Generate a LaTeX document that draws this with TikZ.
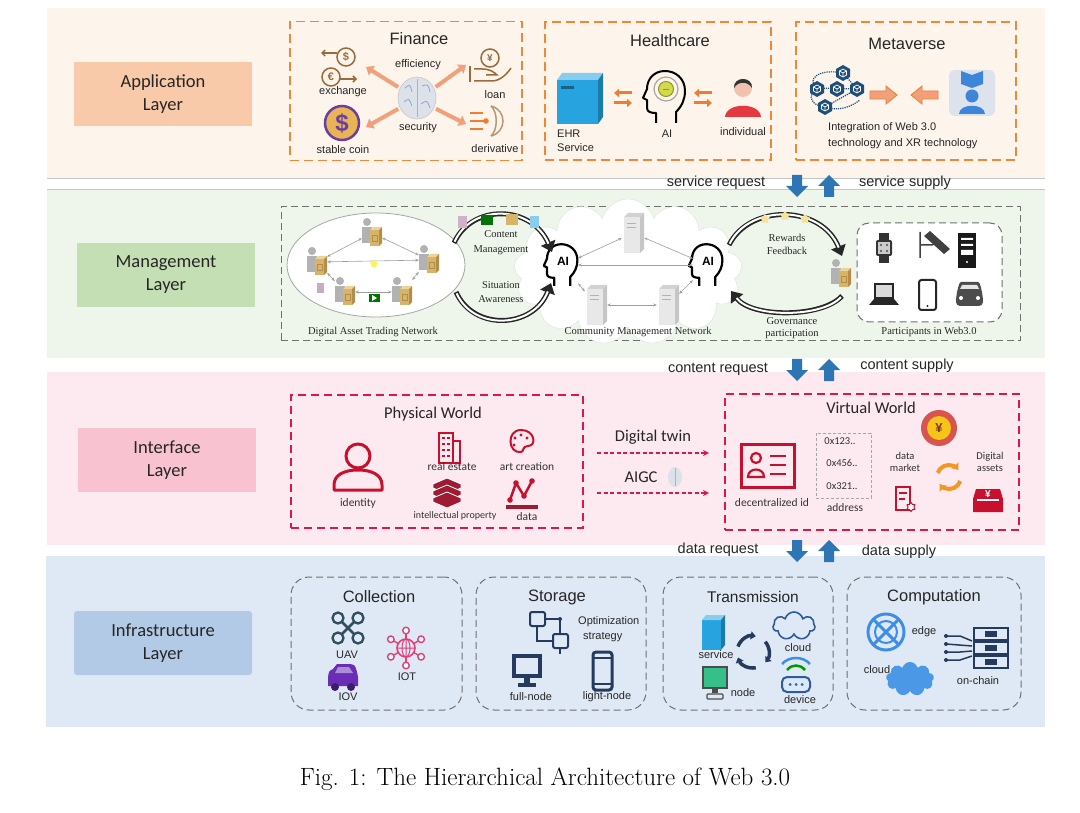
\documentclass[tikz,border=0pt]{standalone}
\usepackage{fontspec}
\newfontfamily\fA{Liberation Sans}
\newfontfamily\fC{Carlito}
\newfontfamily\fT{Liberation Serif}
\usetikzlibrary{arrows.meta,shapes.symbols,shapes.geometric,calc}
\definecolor{cAppBand}{HTML}{FDF4EC}
\definecolor{cAppLab}{HTML}{F8CAAA}
\definecolor{cOrgDash}{HTML}{EE8738}
\definecolor{cMgBand}{HTML}{EEF6EB}
\definecolor{cMgLab}{HTML}{C5DFB4}
\definecolor{cInBand}{HTML}{FDEAF0}
\definecolor{cInLab}{HTML}{F8C2D1}
\definecolor{cRedDash}{HTML}{D8194B}
\definecolor{cIfBand}{HTML}{DFE9F5}
\definecolor{cIfLab}{HTML}{B2CAE5}
\definecolor{cGrDash}{HTML}{707070}
\definecolor{cArrBlue}{HTML}{2E75B6}
\definecolor{cRed}{HTML}{C8102E}
\definecolor{cDRed}{HTML}{9E1B32}
\definecolor{cBrown}{HTML}{9A6B3A}
\definecolor{cOArr}{HTML}{F2A07A}
\definecolor{cOrange}{HTML}{EE7D31}
\definecolor{cSky}{HTML}{27A4E0}
\definecolor{cNavy}{HTML}{1F4E79}
\definecolor{cNavyS}{HTML}{243A5E}
\definecolor{cTanA}{HTML}{D8B46A}
\definecolor{cTanB}{HTML}{EBD39B}
\definecolor{cTanC}{HTML}{B38E4A}
\definecolor{cBrain}{HTML}{DDE2EA}
\definecolor{cBrainB}{HTML}{8EA6C8}
\definecolor{cGold}{HTML}{E8B455}
\definecolor{cPurple}{HTML}{6B3FA0}
\definecolor{cSkin}{HTML}{F1C2B0}
\definecolor{cBodyRed}{HTML}{E53940}
\definecolor{cAiYel}{HTML}{D3DA4A}
\definecolor{cAiYelD}{HTML}{8C9A2A}
\definecolor{cXR}{HTML}{DDE3EC}
\definecolor{cXRBlue}{HTML}{3D85D8}
\definecolor{cStar}{HTML}{F4E3A0}
\definecolor{cCoinRed}{HTML}{D9534F}
\definecolor{cCoinYel}{HTML}{F5C518}
\definecolor{cUav}{HTML}{2F4F5F}
\definecolor{cIot}{HTML}{E0407A}
\definecolor{cIov}{HTML}{6A2DB5}
\definecolor{cGreenMon}{HTML}{35C08A}
\definecolor{cXBlue}{HTML}{3F8EE6}
\definecolor{cCloudB}{HTML}{4A98E6}
\definecolor{cTCloud}{HTML}{2E5B9A}
\tikzset{
  lab/.style={minimum width=178pt, minimum height=64pt, font=\fC\fontsize{18.5}{23}\selectfont, align=center, text=black!85, inner sep=0pt},
  ttl/.style={font=\fA\fontsize{16.5}{19}\selectfont, text=black!85, inner sep=0pt},
  ttlc/.style={font=\fC\fontsize{16.5}{19}\selectfont, text=black!85, inner sep=0pt},
  sm/.style={font=\fA\fontsize{11}{13}\selectfont, text=black!85, inner sep=0pt, align=center},
  smc/.style={font=\fC\fontsize{11.5}{13}\selectfont, text=black!80, inner sep=0pt, align=center},
  tms/.style={font=\fT\fontsize{10.5}{12}\selectfont, text=black!85, inner sep=0pt, align=center},
  flowtxt/.style={font=\fA\fontsize{14.5}{17}\selectfont, text=black!85, inner sep=0pt},
  odash/.style={draw=cOrgDash, line width=1.6pt, dash pattern=on 9pt off 5pt},
  rdash/.style={draw=cRedDash, line width=1.4pt, dash pattern=on 8pt off 5pt},
  gdash/.style={draw=cGrDash, line width=1pt, dash pattern=on 7pt off 4pt},
  gbox/.style={draw=cGrDash, line width=1pt, dash pattern=on 7pt off 4pt, rounded corners=18pt},
  oarr/.style={draw=cOArr, line width=4pt, -{Triangle[length=7pt,width=11pt]}},
  tarr/.style={draw=gray!75, line width=0.6pt, {Stealth[length=3.5pt,width=3pt]}-{Stealth[length=3.5pt,width=3pt]}},
  barcO/.style={draw=black!85, line width=5pt, -{Triangle[length=10pt,width=15pt]}},
  barcI/.style={draw=white, line width=2pt, shorten >=9pt, shorten <=1.5pt},
  rdarr/.style={draw=cRedDash, line width=1.3pt, dash pattern=on 4pt off 2.5pt, -{Stealth[length=6pt,width=6pt]}},
  downarr/.pic={\fill[cArrBlue] (-5,-11) -- (5,-11) -- (5,0) -- (11,0) -- (0,11) -- (-11,0) -- (-5,0) -- cycle;},
  uparr/.pic={\fill[cArrBlue] (-5,11) -- (5,11) -- (5,0) -- (11,0) -- (0,-11) -- (-11,0) -- (-5,0) -- cycle;},
  swapo/.pic={
    \draw[cOrange, line width=3pt, -{Triangle[length=5pt,width=8pt]}] (9,-5) -- (-9,-5);
    \draw[cOrange, line width=3pt, -{Triangle[length=5pt,width=8pt]}] (-9,5) -- (9,5);
  },
  servp/.pic={
    \fill[gray!60] (-5,-11) circle (4);
    \fill[gray!60] (-10,-6) rectangle (0,10);
    \fill[cTanB] (-2,-3) -- (1,-6) -- (10,-6) -- (7,-3) -- cycle;
    \fill[cTanA] (-2,-3) rectangle (7,13);
    \fill[cTanC] (7,-3) -- (10,-6) -- (10,10) -- (7,13) -- cycle;
    \draw[cTanC, line width=0.5pt] (0,2) rectangle (5,8);
  },
  cserv/.pic={
    \fill[gray!35] (-9,-16) -- (-5,-20) -- (11,-20) -- (7,-16) -- cycle;
    \fill[gray!18] (-9,-16) rectangle (7,20);
    \fill[gray!45] (7,-16) -- (11,-20) -- (11,16) -- (7,20) -- cycle;
    \draw[gray!60, line width=0.5pt] (-6,-10) -- (3,-10) (-6,-6) -- (3,-6);
  },
  aihd/.pic={
    \draw[line width=2.2pt, line join=round, scale=0.8] (9,26) -- (9,15) .. controls (15,9) and (18,2) .. (18,-6) .. controls (18,-19) and (8,-26) .. (-2,-26) .. controls (-13,-26) and (-20,-18) .. (-20,-8) -- (-24,1) -- (-20,3) -- (-20,11) .. controls (-20,15) and (-16,16) .. (-11,16) -- (-11,26);
    \node[font=\fA\bfseries\fontsize{12}{12}\selectfont, inner sep=0pt] (-t) at (0,-4) {AI};
  },
  aihl/.pic={
    \draw[line width=2pt, line join=round] (9,26) -- (9,15) .. controls (15,9) and (18,2) .. (18,-6) .. controls (18,-19) and (8,-26) .. (-2,-26) .. controls (-13,-26) and (-20,-18) .. (-20,-8) -- (-24,1) -- (-20,3) -- (-20,11) .. controls (-20,15) and (-16,16) .. (-11,16) -- (-11,26);
    \draw[gray!70, line width=1.2pt] (-1,-8) circle (12);
    \fill[cAiYel, draw=cAiYelD, line width=1pt] (-1,-8) circle (7.5);
    \draw[cAiYelD, line width=0.8pt] (-4,-8) -- (2,-8);
  },
  cube/.pic={
    \fill[cNavy] (0,-8) -- (7,-4) -- (7,4) -- (0,8) -- (-7,4) -- (-7,-4) -- cycle;
    \draw[white, line width=0.7pt] (0,-4) -- (3.5,-2) -- (3.5,2) -- (0,4) -- (-3.5,2) -- (-3.5,-2) -- cycle;
    \draw[white, line width=0.7pt] (-3.5,-2) -- (0,0) -- (3.5,-2) (0,0) -- (0,4);
  },
}
\begin{document}
\begin{tikzpicture}[x=1pt,y=-1pt]
\fill[white] (0,0) rectangle (1080,813);
\useasboundingbox (0,0) rectangle (1080,813);
% ---------- bands
\fill[cAppBand] (47,8) rectangle (1045,178);
\fill[cMgBand] (47,189) rectangle (1045,358);
\draw[gray!45, line width=0.8pt] (47,178) -- (1045,178);
\draw[gray!45, line width=0.8pt] (47,189) -- (1045,189);
\fill[cInBand] (47,372) rectangle (1045,545);
\fill[cIfBand] (46,556) rectangle (1045,727);
% ---------- layer labels
\node[lab, fill=cAppLab] (lapp) at (163,94) {Application\\Layer};
\node[lab, fill=cMgLab] (lmg) at (166,275) {Management\\Layer};
\node[lab, fill=cInLab] (lin) at (167,460) {Interface\\Layer};
\node[lab, fill=cIfLab, rounded corners=3pt] (lif) at (163,643) {Infrastructure\\Layer};
% ---------- between layers
\node[flowtxt] (sreq) at (716,183) {service request};
\pic at (797,186) {downarr};
\pic at (829,186) {uparr};
\node[flowtxt] (ssup) at (905,183) {service supply};
\node[flowtxt] (creq) at (718,369) {content request};
\pic at (797,370) {downarr};
\pic at (829,370) {uparr};
\node[flowtxt] (csup) at (907,366) {content supply};
\node[flowtxt] (dreq) at (718,550) {data request};
\pic at (797,551) {downarr};
\pic at (829,551) {uparr};
\node[flowtxt] (dsup) at (899,552) {data supply};
% ========== APPLICATION
\node[odash, minimum width=232pt, minimum height=139pt] (fin) at (406,91) {};
\node[odash, minimum width=226pt, minimum height=138pt] (hc) at (658,91) {};
\node[odash, minimum width=220pt, minimum height=138pt] (mv) at (906,91) {};
\node[ttl] (tfin) at (419,39) {Finance};
\node[ttl] (thc) at (670,41) {Healthcare};
\node[ttl] (tmv) at (907,44) {Metaverse};
% finance
\node[ellipse, fill=cBrain, draw=gray!45, line width=0.6pt, minimum width=38pt, minimum height=42pt] (brain) at (417,98) {};
\draw[gray!60, line width=0.7pt] (417,79) -- (417,117);
\draw[cBrainB, line width=0.8pt] (405,88) .. controls (410,84) .. (412,92) (404,102) .. controls (409,98) .. (412,106) (422,86) .. controls (428,84) .. (430,92) (421,104) .. controls (427,100) .. (430,108);
\draw[cBrown, line width=1.5pt] (346,57) circle (9);
\node[font=\fA\bfseries\fontsize{11}{11}\selectfont, text=cBrown, inner sep=0pt] (usd) at (346,57) {\$};
\draw[cBrown, line width=1.5pt] (331,77) circle (9);
\node[font=\fA\bfseries\fontsize{11}{11}\selectfont, text=cBrown, inner sep=0pt] (eur) at (331,77) {€};
\draw[cBrown, line width=1.5pt, -{Straight Barb[length=3pt]}] (337,53) -- (321,53);
\draw[cBrown, line width=1.5pt, -{Straight Barb[length=3pt]}] (340,79) -- (357,79);
\node[sm] (texch) at (343,92) {exchange};
\node[circle, minimum size=34pt, fill=cGold, draw=cPurple, line width=2.5pt, font=\fA\bfseries\fontsize{24}{24}\selectfont, text=cPurple, inner sep=0pt] (stab) at (342,123) {\$};
\node[sm] (tstab) at (343,150) {stable coin};
\draw[cBrown, line width=1.5pt] (490,58) circle (9);
\node[font=\fA\bfseries\fontsize{10}{10}\selectfont, text=cBrown, inner sep=0pt] (yen1) at (490,58) {¥};
\draw[cBrown, line width=1.5pt] (470,66) -- (470,82);
\draw[cBrown, line width=1.5pt] (474,69) -- (482,69) .. controls (490,69) and (494,72) .. (497,75) -- (486,75);
\draw[cBrown, line width=1.5pt] (474,81) -- (492,81) .. controls (500,81) and (507,74) .. (511,68);
\node[sm] (tloan) at (495,95) {loan};
\draw[cOrange, line width=2pt] (470,113) -- (483,113) (470,121) -- (486,121) (470,129) -- (483,129);
\fill[cOrange] (486,121) circle (2.8);
\draw[cBrown!70, line width=1.5pt] (491,106) .. controls (507,110) and (507,132) .. (491,136);
\draw[cBrown!70, line width=1.5pt] (491,106) .. controls (498,112) and (498,130) .. (491,136);
\node[sm] (tderi) at (495,149) {derivative};
\node[sm] (teff) at (418,65) {efficiency};
\node[sm] (tsec) at (418,128) {security};
\coordinate (exT) at (366,67);
\coordinate (loT) at (466,65);
\coordinate (stT) at (366,127);
\coordinate (deT) at (466,124);
\draw[oarr, shorten <=2pt] (brain.150) -- (exT);
\draw[oarr, shorten <=2pt] (brain.30) -- (loT);
\draw[oarr, shorten <=2pt] (brain.210) -- (stT);
\draw[oarr, shorten <=2pt] (brain.330) -- (deT);
% healthcare
\node[minimum width=46pt, minimum height=51pt, inner sep=0pt] (ehr) at (580,98) {};
\fill[cSky] (557,80) rectangle (598,124);
\fill[cSky!55] (557,80) -- (562,73) -- (603,73) -- (598,80) -- cycle;
\fill[cSky!75!black] (598,80) -- (603,73) -- (603,117) -- (598,124) -- cycle;
\fill[cSky!60!black] (561,86) rectangle (574,89);
\node[sm, anchor=west] (tehr) at (557,134) {EHR};
\node[sm, anchor=west] (tehs) at (557,148) {Service};
\pic at (623,98) {swapo};
\node[minimum width=44pt, minimum height=52pt, inner sep=0pt] (hai) at (667,97) {};
\pic at (hai) {aihl};
\node[sm] (thai) at (667,134) {AI};
\pic at (703,98) {swapo};
\fill[cSkin] (743,88) circle (9);
\fill[black!80] (734,88) .. controls (733,76) and (753,76) .. (752,88) .. controls (748,81) and (738,81) .. (734,88) -- cycle;
\fill[cBodyRed] (725,117) .. controls (726,102) and (760,102) .. (761,117) -- cycle;
\node[sm] (tind) at (743,132) {individual};
% metaverse
\draw[cNavy, line width=1.2pt, densely dotted] (843,73) .. controls (818,68) and (806,80) .. (817,88) .. controls (806,96) and (812,106) .. (825,107) -- (857,89);
\draw[cNavy, line width=1.2pt, densely dotted] (817,88) -- (857,89) (843,73) -- (857,89) (825,107) .. controls (840,112) and (852,106) .. (860,100);
\pic at (843,73) {cube};
\pic at (817,89) {cube};
\pic at (837,89) {cube};
\pic at (857,89) {cube};
\pic at (825,107) {cube};
\fill[cOArr, draw=cOrange, line width=0.8pt] (870,91) -- (886,91) -- (886,86) -- (897,95) -- (886,104) -- (886,99) -- (870,99) -- cycle;
\fill[cOArr, draw=cOrange, line width=0.8pt] (938,91) -- (922,91) -- (922,86) -- (911,95) -- (922,104) -- (922,99) -- (938,99) -- cycle;
\fill[cXR, rounded corners=6pt] (949,70) rectangle (995,116);
\fill[cXRBlue] (961,71) -- (972,75) -- (983,71) -- (983,84) -- (972,88) -- (961,84) -- cycle;
\fill[cXRBlue] (972,96) circle (6.5);
\fill[cXRBlue] (959,114) .. controls (959,103) and (985,103) .. (985,114) -- cycle;
\node[sm, anchor=west] (tint1) at (828,128) {Integration of Web 3.0};
\node[sm, anchor=west] (tint2) at (828,144) {technology and XR technology};
% ========== MANAGEMENT
\node[gdash, minimum width=739pt, minimum height=134pt] (mgbox) at (650.5,274) {};
\node[ellipse, draw=gray!70, fill=white, line width=0.8pt, minimum width=178pt, minimum height=104pt] (dat) at (376,265) {};
\node[cloud, cloud puffs=13, cloud ignores aspect, draw=gray!25, fill=white, minimum width=228pt, minimum height=146pt] (cmn) at (628,272) {};
\foreach \n/\px/\py in {d1/372/233, d2/317/262, d3/429/260, d4/345/292, d5/402/292}{
  \node[minimum width=20pt, minimum height=26pt, inner sep=0pt] (\n) at (\px,\py) {};
  \pic at (\n) {servp};
}
\draw[tarr] (d1) -- (d2);
\draw[tarr] (d1) -- (d3);
\draw[tarr] (d2) -- (d3);
\draw[tarr] (d2) -- (d4);
\draw[tarr] (d4) -- (d5);
\draw[tarr] (d3) -- (d5);
\node[star, star points=5, fill=yellow!70, minimum size=8pt, inner sep=0pt] (ystar) at (374,264) {};
\node[fill=cBrainB!70!purple!60, minimum width=7pt, minimum height=10pt, inner sep=0pt] (ddoc) at (320,288) {};
\node[fill=green!45!black, minimum width=11pt, minimum height=8pt, inner sep=0pt] (dvid) at (374,298) {};
\fill[white] (372,295) -- (377,298) -- (372,301) -- cycle;
\foreach \n/\px/\py in {c1/633/233, c2/596/305, c3/668/305}{
  \node[minimum width=22pt, minimum height=40pt, inner sep=0pt] (\n) at (\px,\py) {};
  \pic at (\n) {cserv};
}
\node[minimum width=30pt, minimum height=42pt, inner sep=0pt] (a1) at (563,265) {};
\pic (a1p) at (a1) {aihd};
\node[minimum width=30pt, minimum height=42pt, inner sep=0pt] (a2) at (708,265) {};
\pic (a2p) at (a2) {aihd};
\draw[tarr] (c1) -- (a1);
\draw[tarr] (c1) -- (a2);
\draw[tarr] (a1) -- (a2);
\draw[tarr] (c2) -- (c3);
\draw[tarr] (a1) -- (c2);
\draw[tarr] (a2) -- (c3);
\coordinate (lt1) at (454,243);
\coordinate (lt2) at (552,252);
\draw[barcO] (lt1) .. controls (472,203) and (532,205) .. (lt2);
\draw[barcI] (lt1) .. controls (472,203) and (532,205) .. (lt2);
\coordinate (lb1) at (456,292);
\coordinate (lb2) at (551,283);
\draw[barcO] (lb1) .. controls (474,332) and (534,328) .. (lb2);
\draw[barcI] (lb1) .. controls (474,332) and (534,328) .. (lb2);
\coordinate (rt1) at (729,245);
\coordinate (rt2) at (842,256);
\draw[barcO] (rt1) .. controls (750,203) and (822,205) .. (rt2);
\draw[barcI] (rt1) .. controls (750,203) and (822,205) .. (rt2);
\coordinate (rb1) at (842,296);
\coordinate (rb2) at (731,291);
\draw[barcO] (rb1) .. controls (822,318) and (752,318) .. (rb2);
\draw[barcI] (rb1) .. controls (822,318) and (752,318) .. (rb2);
\node[tms] (tcm1) at (501,234) {Content};
\node[tms] (tcm2) at (501,250) {Management};
\node[tms] (tsa1) at (501,285) {Situation};
\node[tms] (tsa2) at (501,299) {Awareness};
\node[tms] (trf1) at (787,238) {Rewards};
\node[tms] (trf2) at (787,251) {Feedback};
\node[tms] (tgp1) at (792,321) {Governance};
\node[tms] (tgp2) at (792,334) {participation};
\node[fill=cBrainB!60!purple!50, minimum width=9pt, minimum height=12pt, inner sep=0pt] (doc1) at (462,222) {};
\node[fill=green!45!black, minimum width=12pt, minimum height=10pt, inner sep=0pt] (doc2) at (487,220) {};
\node[fill=cTanA, minimum width=12pt, minimum height=11pt, inner sep=0pt] (doc3) at (512,220) {};
\node[fill=cSky!55, minimum width=9pt, minimum height=12pt, inner sep=0pt] (doc4) at (534,222) {};
\node[star, star points=5, fill=cStar, minimum size=10pt, inner sep=0pt] (st1) at (765,219) {};
\node[star, star points=5, fill=cStar, minimum size=10pt, inner sep=0pt] (st2) at (785,216) {};
\node[star, star points=5, fill=cStar, minimum size=10pt, inner sep=0pt] (st3) at (805,219) {};
\node[minimum width=20pt, minimum height=28pt, inner sep=0pt] (pp) at (841,274) {};
\pic at (pp) {servp};
\node[gbox, rounded corners=12pt, fill=white, minimum width=145pt, minimum height=99pt] (part) at (929.5,272.5) {};
% participant icons
\fill[black!80] (879,233) rectangle (889,263);
\fill[black!80, rounded corners=2pt] (876,240) rectangle (892,256);
\fill[gray!40] (878,242) rectangle (890,254);
\fill[black!70] (881,245) circle (1.2) (887,245) circle (1.2) (881,251) circle (1.2) (887,251) circle (1.2);
\fill[black!75] (924,236) -- (930,231) -- (950,249) -- (944,254) -- cycle;
\draw[black!75, line width=1.5pt] (920,232) -- (920,258) (920,245) -- (932,245) -- (936,243);
\fill[black!90] (958,233) rectangle (976,268);
\fill[white] (961,238) rectangle (973,240) (961,244) rectangle (973,246) (961,250) rectangle (973,255);
\fill[white] (967,262) circle (1.2);
\fill[black!85] (874,283) rectangle (894,299);
\fill[gray!30] (876,285) rectangle (892,297);
\fill[black!85] (874,299) -- (894,299) -- (899,305) -- (869,305) -- cycle;
\draw[black!85, line width=2pt, rounded corners=2.5pt] (919,280) rectangle (936,310);
\fill[black!85] (927.5,306) circle (1.2);
\fill[black!70, rounded corners=4pt] (956,298) -- (958,287) .. controls (960,282) .. (965,282) -- (974,282) .. controls (979,282) .. (981,287) -- (983,298) -- (983,306) -- (956,306) -- cycle;
\fill[gray!20] (960,289) -- (962,285) -- (977,285) -- (979,289) -- cycle;
\fill[white] (961,298) circle (2) (978,298) circle (2);
\node[tms] (tdat) at (373,332) {Digital Asset Trading Network};
\node[tms] (tcmn) at (638,332) {Community Management Network};
\node[tms] (tpart) at (929,332) {Participants in Web3.0};
% ========== INTERFACE
\node[rdash, minimum width=292pt, minimum height=133pt] (phys) at (437,461.5) {};
\node[rdash, minimum width=294pt, minimum height=136pt] (virt) at (872,462) {};
\node[ttlc] (tphys) at (433,414) {Physical World};
\node[ttlc] (tvirt) at (871,408) {Virtual World};
\draw[cRed, line width=3pt] (358,456) circle (12);
\draw[cRed, line width=3pt, line join=round] (334,490) -- (334,485) .. controls (334,475) and (344,470) .. (358,470) .. controls (372,470) and (382,475) .. (382,485) -- (382,490) -- cycle;
\node[smc] (tid) at (358,503) {identity};
\draw[cRed, line width=1.6pt] (439,433) rectangle (453,463);
\draw[cRed, line width=1.6pt] (453,441) rectangle (460,463);
\foreach \yy in {438,444,450,456}{ \draw[cRed, line width=1.2pt] (442,\yy) -- (445,\yy) (447,\yy) -- (450,\yy); }
\node[smc] (tre) at (452,467) {real estate};
\draw[cRed, line width=2pt] (521,452) .. controls (508,454) and (506,430) .. (521,430) .. controls (535,430) and (537,446) .. (528,446) .. controls (522,446) and (524,452) .. (521,452) -- cycle;
\fill[cRed] (515,438) circle (1.7) (521,435) circle (1.7) (527,438) circle (1.7) (514,445) circle (1.7);
\node[smc] (tart) at (527,467) {art creation};
\foreach \k in {0,1,2}{
  \fill[cDRed, draw=white, line width=0.8pt] (433,{484+\k*7}) -- (447,{478+\k*7}) -- (461,{484+\k*7}) -- (461,{488+\k*7}) -- (447,{494+\k*7}) -- (433,{488+\k*7}) -- cycle;
}
\node[smc, font=\fC\fontsize{10}{12}\selectfont] (tip) at (455,516) {intellectual property};
\draw[cRed, line width=2.5pt, line join=round] (510,500) -- (516,483) -- (524,496) -- (532,481);
\fill[cRed] (510,500) circle (2.8) (516,483) circle (2.8) (524,496) circle (2.8) (532,481) circle (2.8);
\fill[cDRed] (506,505) rectangle (538,509);
\node[smc] (tdata) at (527,517) {data};
\coordinate (dt1) at (597,453);
\coordinate (dt2) at (709,453);
\coordinate (ag1) at (597,493);
\coordinate (ag2) at (709,493);
\draw[rdarr] (dt1) -- (dt2);
\draw[rdarr] (ag1) -- (ag2);
\node[ttlc] (tdt) at (653,437) {Digital twin};
\node[ttlc] (taigc) at (641,477) {AIGC};
\node[ellipse, fill=cBrain, minimum width=14pt, minimum height=20pt, inner sep=0pt] (aigcb) at (675,477) {};
\draw[gray!60, line width=0.6pt] (675,468) -- (675,486);
\draw[cRed, line width=3pt] (741,444) rectangle (794,487);
\draw[cRed, line width=2.2pt] (756,458) circle (5);
\draw[cRed, line width=2.2pt] (748,477) .. controls (748,467) and (764,467) .. (764,477) -- cycle;
\draw[cRed, line width=2.2pt] (770,456) -- (786,456) (770,465) -- (786,465) (770,474) -- (786,474);
\node[smc] (tdid) at (772,503) {decentralized id};
\draw[gray!70, line width=0.9pt, dash pattern=on 3pt off 2pt] (816,433) rectangle (871,498);
\node[smc, font=\fC\fontsize{10.5}{12}\selectfont] (ad1) at (840,441) {0x123..};
\node[smc, font=\fC\fontsize{10.5}{12}\selectfont] (ad2) at (842,463) {0x456..};
\node[smc, font=\fC\fontsize{10.5}{12}\selectfont] (ad3) at (842,486) {0x321..};
\node[smc] (tadr) at (845,508) {address};
\node[smc, font=\fC\fontsize{10.5}{12.5}\selectfont] (tdm) at (905,462) {data\\market};
\node[smc, font=\fC\fontsize{10.5}{12.5}\selectfont] (tda) at (990,462) {Digital\\assets};
\fill[cCoinRed] (939,428) circle (18);
\fill[cCoinYel] (939,428) circle (12);
\node[font=\fA\bfseries\fontsize{13}{13}\selectfont, text=cCoinRed!60!black, inner sep=0pt] (yen2) at (939,428) {¥};
\coordinate (rf) at (949,477);
\draw[cOrange!80!yellow, line width=4pt, -{Triangle[length=5pt,width=9pt]}] ($(rf)+(200:12)$) arc[start angle=200, end angle=320, radius=12];
\draw[cOrange!80!yellow, line width=4pt, -{Triangle[length=5pt,width=9pt]}] ($(rf)+(20:12)$) arc[start angle=20, end angle=140, radius=12];
\draw[cRed, line width=1.6pt] (896,487) rectangle (910,510);
\draw[cRed, line width=1.2pt] (899,493) -- (907,493) (899,499) -- (905,499);
\node[star, star points=6, draw=cRed, line width=1pt, minimum size=9pt, inner sep=0pt, fill=white] (dstar) at (911,507) {};
\fill[cRed] (976,489) -- (1000,489) -- (1003,499) -- (1003,512) -- (973,512) -- (973,499) -- cycle;
\fill[white] (977,499) rectangle (999,501);
\node[font=\fA\bfseries\fontsize{10}{10}\selectfont, text=white, inner sep=0pt] (yen3) at (988,494) {¥};
% ========== INFRASTRUCTURE
\node[gbox, minimum width=171pt, minimum height=133pt] (coll) at (376.5,643.5) {};
\node[gbox, minimum width=170pt, minimum height=133pt] (stor) at (561,643.5) {};
\node[gbox, minimum width=170pt, minimum height=133pt] (tran) at (748,643.5) {};
\node[gbox, minimum width=174pt, minimum height=133pt] (comp) at (934,643.5) {};
\node[ttl] (tcoll) at (379,597) {Collection};
\node[ttl] (tstor) at (557,597) {Storage};
\node[ttl, font=\fA\fontsize{15.5}{18}\selectfont] (ttran) at (753,597) {Transmission};
\node[ttl] (tcomp) at (934,597) {Computation};
% collection
\draw[cUav, line width=2.3pt] (338,618) circle (5.5) (358,618) circle (5.5) (338,638) circle (5.5) (358,638) circle (5.5);
\draw[cUav, line width=2.8pt] (342,622) -- (354,634) (354,622) -- (342,634);
\node[sm] (tuav) at (347,655) {UAV};
\draw[cIot, line width=1.6pt] (406,648) circle (9);
\draw[cIot, line width=1pt] (397,648) -- (415,648) (406,639) -- (406,657) (406,648) ellipse (4 and 9);
\foreach \a in {30,90,150,210,270,330}{
  \draw[cIot, line width=1.4pt] ($(406,648)+(\a:9)$) -- ($(406,648)+(\a:14)$);
  \draw[cIot, line width=1.4pt, fill=white] ($(406,648)+(\a:17.5)$) circle (3.3);
}
\node[sm] (tiot) at (407,677) {IOT};
\fill[cIov] (328,686) -- (328,677) .. controls (329,671) .. (333,669) -- (337,664) -- (350,664) .. controls (355,665) .. (357,672) -- (358,677) -- (358,686) -- cycle;
\fill[cIov!55!white] (338,667) -- (349,667) -- (353,673) -- (335,673) -- cycle;
\fill[cIov!60!black] (335,687) circle (4) (351,687) circle (4);
\node[sm] (tiov) at (348,697) {IOV};
% storage
\draw[cNavyS, line width=2pt, rounded corners=2pt] (530,612) rectangle (545,626);
\draw[cNavyS, line width=2pt, rounded corners=2pt] (553,634) rectangle (568,648);
\draw[cNavyS, line width=2pt] (545,619) -- (560,619) -- (560,634) (537,626) -- (537,641) -- (553,641) (560,648) -- (560,654) (537,626) -- (537,630);
\fill[cNavyS] (560,619) circle (2);
\node[sm, anchor=west] (topt1) at (578,622) {Optimization};
\node[sm, anchor=west] (topt2) at (583,637) {strategy};
\draw[cNavyS, line width=3.5pt] (514,656) rectangle (540,676);
\fill[cNavyS] (524,676) rectangle (530,684);
\fill[cNavyS] (518,683) rectangle (536,687);
\node[sm] (tfull) at (531,697) {full-node};
\draw[cNavyS, line width=3pt, rounded corners=3pt] (593,652) rectangle (612,690);
\draw[cNavyS, line width=1.5pt] (593,684) -- (612,684) (593,658) -- (612,658);
\node[sm] (tlight) at (607,697) {light-node};
% transmission
\fill[cSky] (702,620) rectangle (721,650);
\fill[cSky!55] (702,620) -- (706,615) -- (725,615) -- (721,620) -- cycle;
\fill[cSky!75!black] (721,620) -- (725,615) -- (725,645) -- (721,650) -- cycle;
\node[sm] (tserv) at (716,655) {service};
\coordinate (cyc) at (753,652);
\draw[cNavyS, line width=3.5pt, -{Triangle[length=5pt,width=8pt]}] ($(cyc)+(200:16)$) arc[start angle=200, end angle=280, radius=16];
\draw[cNavyS, line width=3.5pt, -{Triangle[length=5pt,width=8pt]}] ($(cyc)+(320:16)$) arc[start angle=320, end angle=400, radius=16];
\draw[cNavyS, line width=3.5pt, -{Triangle[length=5pt,width=8pt]}] ($(cyc)+(80:16)$) arc[start angle=80, end angle=160, radius=16];
\node[cloud, cloud puffs=7, cloud ignores aspect, draw=cTCloud, line width=1.6pt, minimum width=42pt, minimum height=28pt, inner sep=0pt] (tcl) at (794,626) {};
\node[sm] (tcld) at (798,648) {cloud};
\fill[cGreenMon] (703,667) rectangle (727,688);
\draw[black!70, line width=1.5pt] (703,667) rectangle (727,688);
\fill[black!70] (712,688) rectangle (718,693);
\draw[black!70, line width=1.2pt, rounded corners=1pt] (707,694) rectangle (723,699);
\node[sm] (tnode) at (743,693) {node};
\draw[green!60!black, line width=2.5pt] (787,670) .. controls (792,664) and (800,664) .. (805,670);
\draw[cXBlue, line width=2.5pt] (782,664) .. controls (789,656) and (803,656) .. (810,664);
\draw[cTCloud, line width=2pt, rounded corners=5pt, fill=cXBlue!20] (782,677) rectangle (810,692);
\fill[cTCloud] (790,684.5) circle (1.5) (796,684.5) circle (1.5) (802,684.5) circle (1.5);
\node[sm] (tdev) at (800,700) {device};
% computation
\draw[cXBlue, line width=3pt] (886,632) circle (18);
\draw[cXBlue, line width=2pt] (886,632) circle (11);
\draw[cXBlue, line width=3pt] (873,619) -- (899,645) (899,619) -- (873,645);
\node[sm] (tedge) at (924,632) {edge};
\foreach \yy in {628,642,656}{
  \draw[cNavyS, line width=2pt] (974,\yy) rectangle (1008,\yy+12);
  \fill[cNavyS] (985,\yy+3) rectangle (997,\yy+9);
}
\draw[cNavyS, line width=1.5pt] (946,636) -- (960,636) -- (972,641) (946,644) -- (972,646) (946,652) -- (960,652) -- (972,651) (946,660) -- (960,660) -- (972,656);
\fill[cNavyS] (946,636) circle (2) (946,644) circle (2) (946,652) circle (2) (946,660) circle (2);
\node[cloud, cloud puffs=9, cloud ignores aspect, fill=cCloudB, minimum width=48pt, minimum height=34pt, inner sep=0pt] (ccl) at (910,679) {};
\node[sm] (tccl) at (877,670) {cloud};
\node[sm] (tonc) at (978,681) {on-chain};
% ========== caption
\node[font=\fontsize{25}{29}\selectfont, inner sep=0pt] (cap) at (545,779) {Fig. 1: The Hierarchical Architecture of Web 3.0};
\end{tikzpicture}
\end{document}
